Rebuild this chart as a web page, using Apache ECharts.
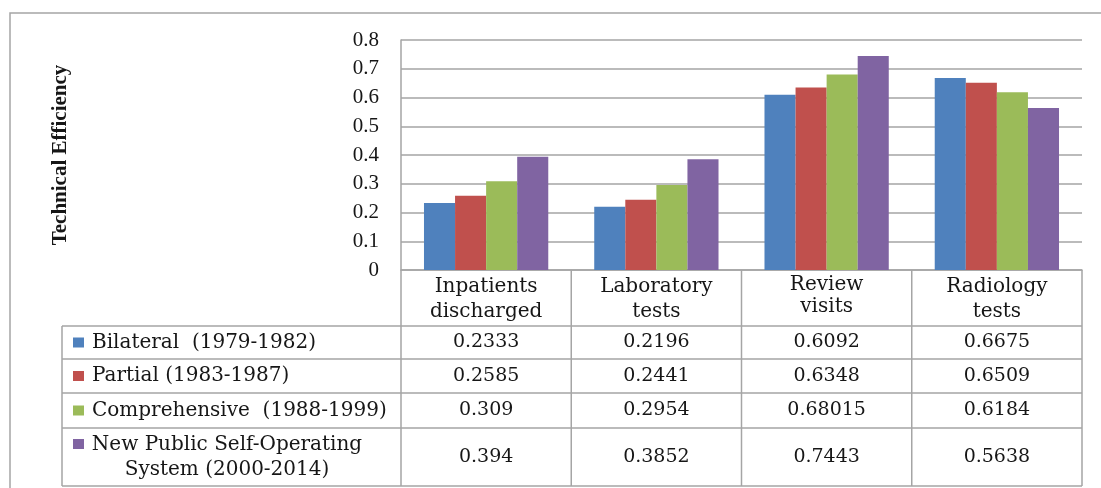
<!DOCTYPE html>
<html>
<head>
<meta charset="utf-8">
<script src="https://cdn.jsdelivr.net/npm/echarts@6/dist/echarts.min.js"></script>
<style>html,body{margin:0;padding:0;background:#fff;}#c{width:1101px;height:488px;}</style>
</head>
<body>
<div id="c"></div>
<script>
const categories = ['Inpatients\ndischarged', 'Laboratory\ntests', 'Review\nvisits', 'Radiology\ntests'];
const seriesNames = ['Bilateral  (1979-1982)', 'Partial (1983-1987)', 'Comprehensive  (1988-1999)', 'New Public Self-Operating\nSystem (2000-2014)'];
const bilateral = [0.2333, 0.2196, 0.6092, 0.6675];
const partial = [0.2585, 0.2441, 0.6348, 0.6509];
const comprehensive = [0.309, 0.2954, 0.68015, 0.6184];
const newPublic = [0.394, 0.3852, 0.7443, 0.5638];
const yTicks = [0, 0.1, 0.2, 0.3, 0.4, 0.5, 0.6, 0.7, 0.8];
const colors = ['#4F81BD', '#C0504D', '#9BBB59', '#8064A2'];

const allSeries = [bilateral, partial, comprehensive, newPublic];
const gray = '#A5A5A5';
const ink = '#161616';
const tableFont = 'DejaVu Serif';

const chart = echarts.init(document.getElementById('c'), null, {renderer: 'canvas'});
const option = {
  animation: false,
  backgroundColor: '#fff',
  grid: {left: 401, top: 40, right: 19, bottom: 218, containLabel: false},
  xAxis: {
    type: 'category',
    data: categories,
    axisLine: {show: true, lineStyle: {color: gray, width: 1.5}},
    axisTick: {show: false},
    axisLabel: {
      show: true, margin: 4, color: ink, fontFamily: tableFont, fontSize: 20, lineHeight: 25,
      interval: 0,
      formatter: function (v, i) { return i === 2 ? '{r|' + v.split('\n').join('}\n{r|') + '}' : v; },
      rich: {r: {fontFamily: tableFont, fontSize: 20, lineHeight: 22, color: ink}}
    },
    splitLine: {show: false}
  },
  yAxis: {
    type: 'value',
    min: yTicks[0], max: yTicks[yTicks.length - 1], interval: 0.1,
    name: 'Technical Efficiency',
    nameLocation: 'middle',
    nameRotate: 90,
    nameGap: 330,
    nameTextStyle: {fontFamily: 'Liberation Serif', fontWeight: 'bold', fontSize: 21, color: ink},
    axisLine: {show: true, lineStyle: {color: gray, width: 1.5}},
    axisTick: {show: false},
    axisLabel: {
      margin: 22, color: ink, fontFamily: 'Liberation Serif', fontSize: 21,
      formatter: function (v) { return String(Math.round(v * 10) / 10); }
    },
    splitLine: {show: true, lineStyle: {color: gray, width: 1.5}}
  },
  series: allSeries.map(function (d, i) {
    return {
      type: 'bar', name: seriesNames[i], data: d,
      itemStyle: {color: colors[i]},
      barGap: '0%', barCategoryGap: '27%'
    };
  })
};
chart.setOption(option);

// Data table built from the axes
const c0 = chart.convertToPixel({xAxisIndex: 0}, 0);
const c1 = chart.convertToPixel({xAxisIndex: 0}, 1);
const band = c1 - c0;
const colLeft = c0 - band / 2;
const yAxisPx = chart.convertToPixel({yAxisIndex: 0}, 0);
const tableLeft = 62;
const rowLines = [326, 359, 393, 428, 486];
const tableRight = colLeft + band * categories.length;

const g = [];
g.push({type: 'rect', shape: {x: 10, y: 13, width: 1110, height: 500}, style: {fill: null, stroke: gray, lineWidth: 1.5}, silent: true});
rowLines.forEach(function (y) {
  g.push({type: 'line', shape: {x1: tableLeft, y1: y, x2: tableRight, y2: y}, style: {stroke: gray, lineWidth: 1.5}});
});
g.push({type: 'line', shape: {x1: tableLeft, y1: rowLines[0], x2: tableLeft, y2: rowLines[rowLines.length - 1]}, style: {stroke: gray, lineWidth: 1.5}});
for (let k = 0; k <= categories.length; k++) {
  const x = colLeft + band * k;
  g.push({type: 'line', shape: {x1: x, y1: yAxisPx, x2: x, y2: rowLines[rowLines.length - 1]}, style: {stroke: gray, lineWidth: 1.5}});
}
allSeries.forEach(function (d, s) {
  const yc = (rowLines[s] + rowLines[s + 1]) / 2;
  const multi = seriesNames[s].indexOf('\n') >= 0;
  g.push({type: 'rect', shape: {x: 73, y: multi ? rowLines[s] + 11 : yc - 5, width: 11, height: 10}, style: {fill: colors[s]}});
  g.push({
    type: 'text',
    x: multi ? 227 : 92, y: yc,
    style: {text: seriesNames[s], fontFamily: tableFont, fontSize: 20, lineHeight: 25, fill: ink,
      align: multi ? 'center' : 'left', verticalAlign: 'middle'}
  });
  d.forEach(function (v, i) {
    g.push({
      type: 'text',
      x: chart.convertToPixel({xAxisIndex: 0}, i), y: yc,
      style: {text: String(v), fontFamily: tableFont, fontSize: 19, fill: ink, align: 'center', verticalAlign: 'middle'}
    });
  });
});
chart.setOption({graphic: {elements: g}});
</script>
</body>
</html>
